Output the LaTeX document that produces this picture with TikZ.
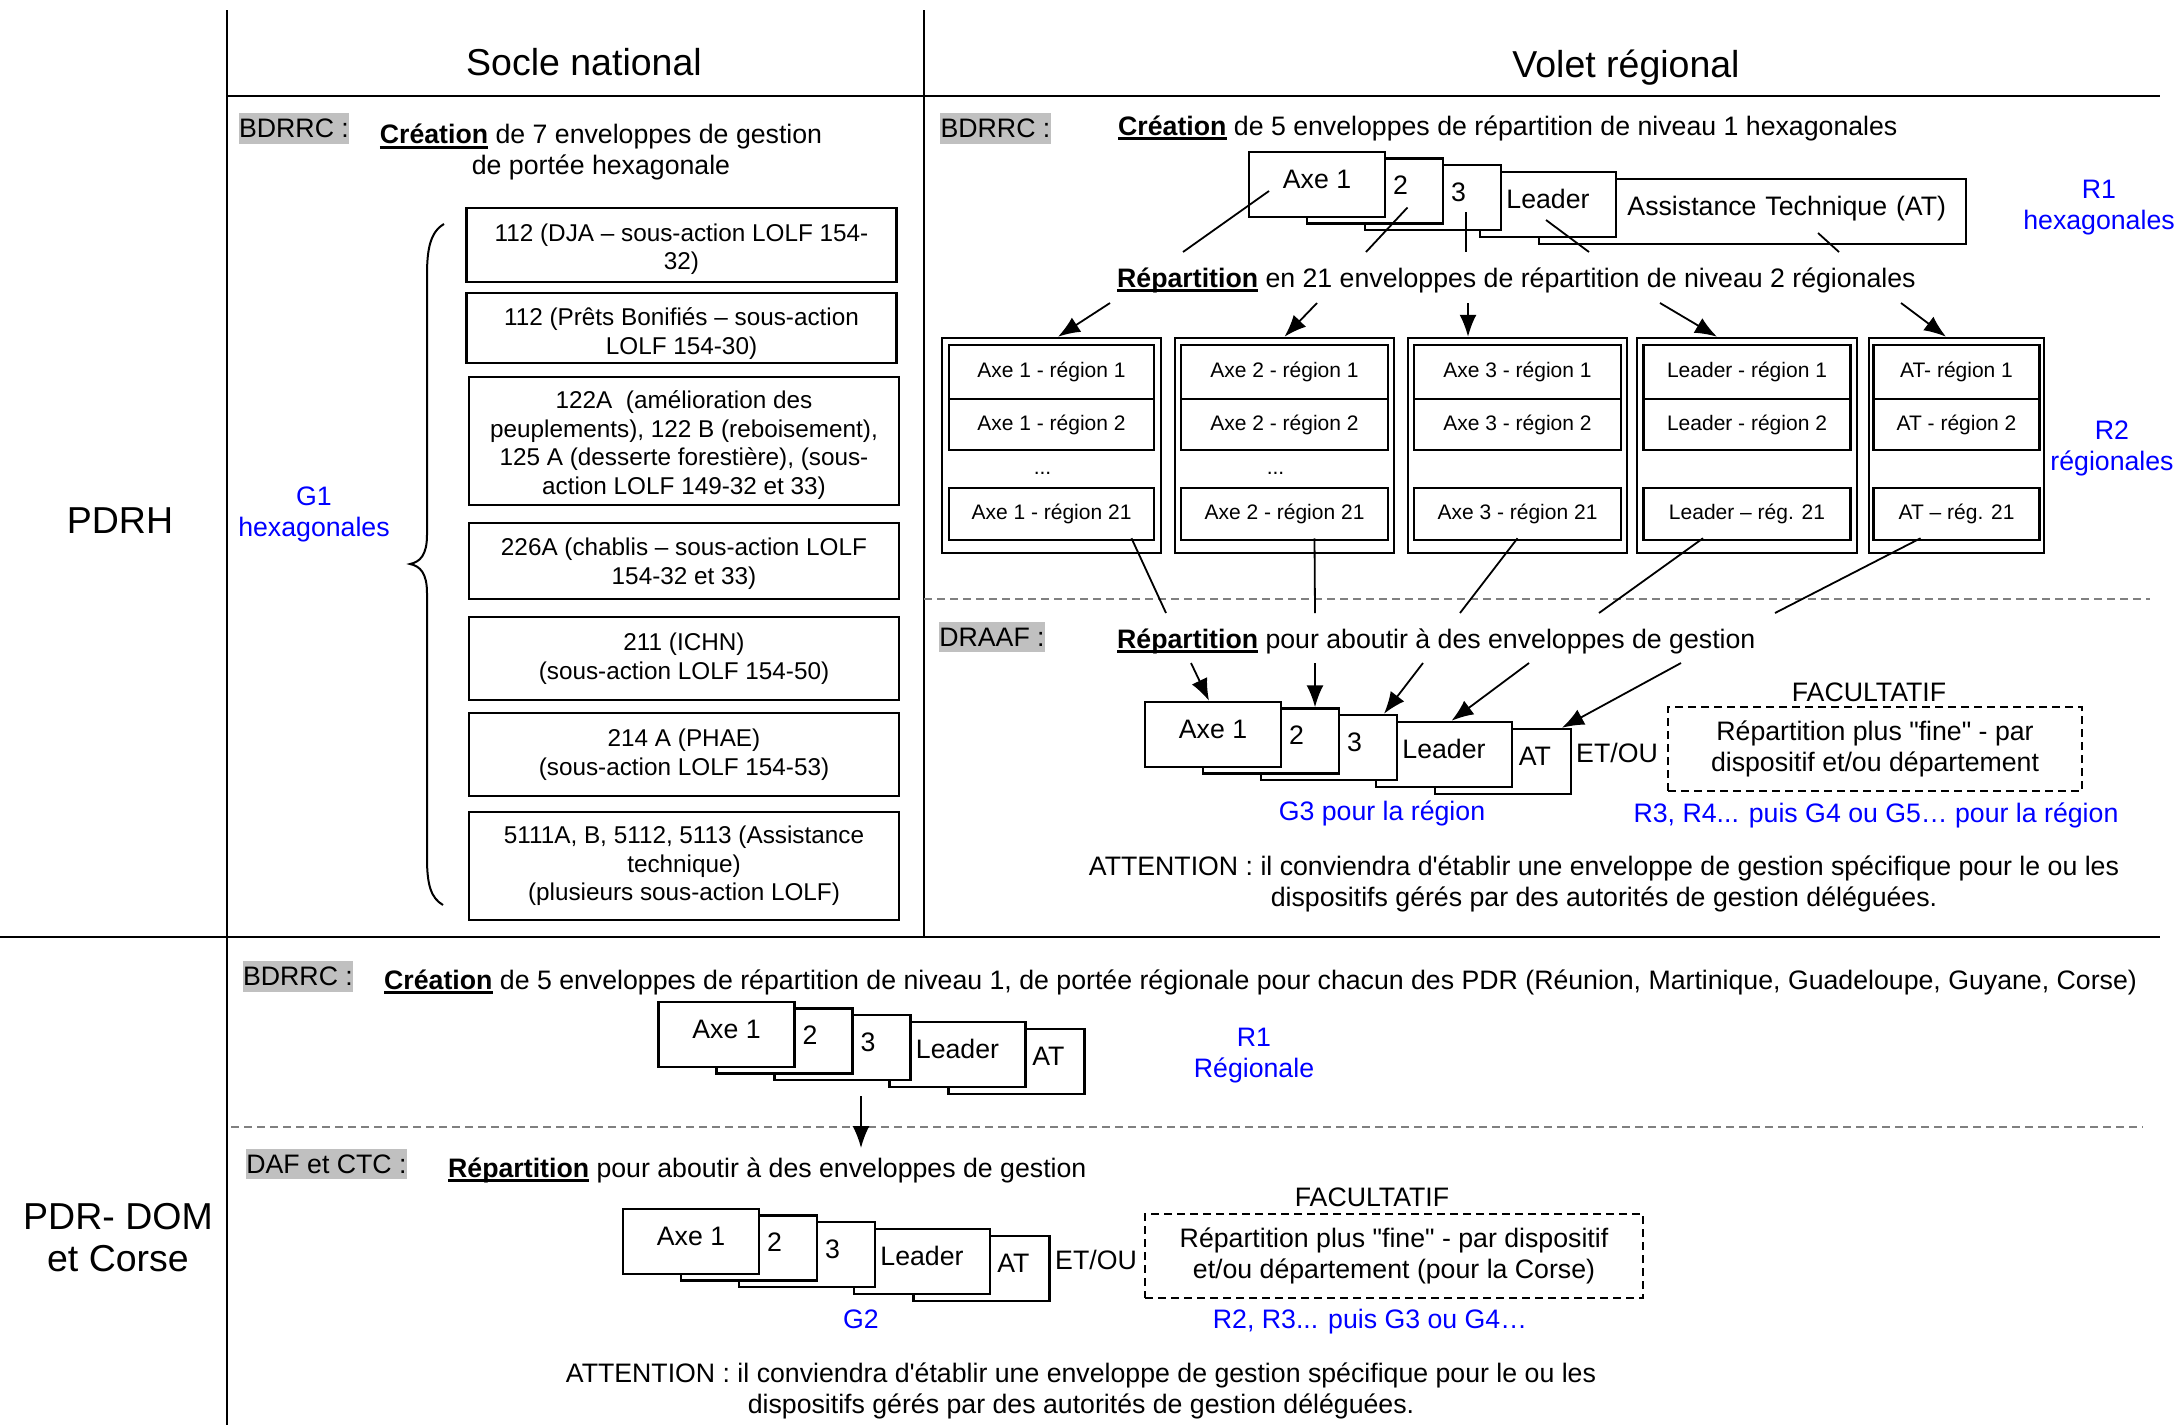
\documentclass[tikz,border=0pt]{standalone}
\usepackage{fontspec}
\setmainfont{Liberation Sans}[Ligatures=TeXOff]
\usetikzlibrary{positioning,arrows.meta}
\definecolor{tagfill}{RGB}{192,192,192}
\definecolor{sepline}{RGB}{128,128,128}
\newcommand\ulword[1]{\setbox0\hbox{\bfseries #1}\rlap{\rule[-5pt]{\wd0}{2.6pt}}\box0\relax}

\begin{document}
\begin{tikzpicture}[x=1pt, y=-1pt, > = {Latex[length=22pt,width=17pt]},
txt/.style={font=\fontsize{26.7}{31}\selectfont, inner sep=0pt},
head/.style={font=\fontsize{37.5}{42}\selectfont, inner sep=0pt},
blue txt/.style={txt, text=blue, align=center},
tag/.style={txt, fill=tagfill, inner xsep=0.5pt, inner ysep=6pt},
grid/.style={line width=2pt},
sep/.style={draw=sepline, line width=2pt, dash pattern=on 8pt off 5pt},
link/.style={line width=1.8pt},
lolf/.style={rectangle, draw, line width=2.5pt, minimum width=430pt, align=center, font=\fontsize{24.3}{28.5}\selectfont, inner sep=2pt},
env/.style={rectangle, draw, fill=white, line width=2.5pt, minimum width=136pt, minimum height=65pt, text height=19pt, text depth=12pt, txt},
num/.style={env, text width=66pt, inner xsep=35pt, align=right},
atbox/.style={env, inner xsep=20pt, align=right},
col/.style={rectangle, draw, line width=2.5pt, minimum height=215pt},
cell/.style={rectangle, draw, line width=2.5pt, font=\fontsize{21}{25}\selectfont},
opt/.style={rectangle, draw, line width=2pt, dash pattern=on 8pt off 5pt, minimum height=84pt, txt, align=center}]

\useasboundingbox (0,0) rectangle (2179,1425);

%table lines
\draw[grid] (227,10) -- (227,1425);
\draw[grid] (924,10) -- (924,937);
\draw[grid] (227,96) -- (2160,96);
\draw[grid] (0,937) -- (2160,937);
\draw[sep] (924,599) -- (2150,599);
\draw[sep] (231,1127) -- (2143,1127);

\node[head, anchor=base] (socle) at (584,75) {Socle national};
\node[head, anchor=base] (volet) at (1626,77) {Volet régional};
\node[head, anchor=base] (pdrh) at (120,533) {PDRH};
\node[head, align=center] (pdrdom) at (118,1237.5) {PDR- DOM\\et Corse};

%socle national
\node[tag] (bdrrc1) at (294,128.5) {BDRRC :};
\node[txt, align=center] (crea1) at (601,152) {\ulword{Création} de 7 enveloppes de gestion\\de portée hexagonale};

\node[lolf, minimum height=74pt, text height=55pt, text depth=5.2pt] (m112a) at (681.5,245) {112 (DJA – sous-action LOLF 154-\\32)};
\node[lolf, minimum height=70pt, text height=58pt, text depth=5.2pt] (m112b) at (681.5,328) {112 (Prêts Bonifiés – sous-action\\LOLF 154-30)};
\node[lolf, minimum height=128pt, text height=112pt, text depth=5.2pt] (m122) at (684,441) {122A\ \ (amélioration des\\peuplements), 122 B (reboisement),\\125 A (desserte forestière), (sous-\\action LOLF 149-32 et 33)};
\node[lolf, minimum height=76pt, text height=52pt, text depth=5.2pt] (m226) at (684,561) {226A (chablis – sous-action LOLF\\154-32 et 33)};
\node[lolf, minimum height=83pt] (m211) at (684,658.5) {211 (ICHN)\\(sous-action LOLF 154-50)};
\node[lolf, minimum height=83pt] (m214) at (684,754.5) {214 A (PHAE)\\(sous-action LOLF 154-53)};
\node[lolf, minimum height=108pt] (m511) at (684,866) {5111A, B, 5112, 5113 (Assistance\\technique)\\(plusieurs sous-action LOLF)};

%brace
\draw[line width=2pt] (444,224) .. controls (430,232) and (427,250) .. (427,275) -- (427,535) .. controls (427,555) and (420,562) .. (410,564) .. controls (420,566) and (427,573) .. (427,593) -- (427,858) .. controls (427,885) and (431,898) .. (443,905);
\node[blue txt] (g1) at (314,514) {G1\\hexagonales};

%stacks of envelopes
\foreach \s/\x/\y/\ax/\w/\at in {r/1317/184.5/1752.5/387pt/{Assistance Technique (AT)}, d/1213/734.5/1503/96pt/AT, o/726.5/1034.5/1016.5/96pt/AT, c/691/1241.5/981.5/96pt/AT}
{
\node[atbox, text width=\w] (\s5) at (\ax,\y+27) {\at};
\node[env] (\s4) at (\x+231,\y+20) {Leader};
\node[num] (\s3) at (\x+116,\y+13) {3};
\node[num] (\s2) at (\x+58,\y+6.5) {2};
\node[env] (\s1) at (\x,\y) {Axe 1};
}

%volet regional
\node[tag] (bdrrc2) at (995.5,128.5) {BDRRC :};
\node[txt, anchor=base west] (crea2) at (1118,135) {\ulword{Création} de 5 enveloppes de répartition de niveau 1 hexagonales};
\node[blue txt] (r1lab) at (2099,208) {R1\\hexagonales};
\node[txt, anchor=base west] (rep1) at (1117,287) {\ulword{Répartition} en 21 enveloppes de répartition de niveau 2 régionales};

\foreach \i/\dx/\dy/\ex in {1/-48/6.5/1183, 2/32.5/16.5/1366, 3/33/14.5/1466, 4/-2/15.5/1589, 5/65.5/21.5/1839}
{
\coordinate (q\i) at (\ex,252);
\draw[link] ([shift={(\dx,\dy)}]r\i.center) -- (q\i);
}

%columns of regions
\foreach \i/\cx/\ow/\iw/\ra/\rb/\rc in {1/1051.5/219pt/205pt/{Axe 1 - région 1}/{Axe 1 - région 2}/{Axe 1 - région 21}, 2/1284.5/219pt/207pt/{Axe 2 - région 1}/{Axe 2 - région 2}/{Axe 2 - région 21}, 3/1517.5/219pt/207pt/{Axe 3 - région 1}/{Axe 3 - région 2}/{Axe 3 - région 21}, 4/1747/220pt/207pt/{Leader - région 1}/{Leader - région 2}/{Leader – rég. 21}, 5/1956.5/175pt/166pt/{AT- région 1}/{AT - région 2}/{AT – rég. 21}}
{
\node[col, minimum width=\ow] (col\i) at (\cx,445.5) {};
\node[cell, minimum width=\iw, minimum height=54pt] (c\i-a) at (\cx,372) {\ra};
\node[cell, minimum width=\iw, minimum height=51pt] (c\i-b) at (\cx,424.5) {\rb};
\node[cell, minimum width=\iw, minimum height=52pt] (c\i-c) at (\cx,514) {\rc};
\ifnum\i<3 \node[cell, draw=none] (c\i-d) at (\cx-9,473) {...}; \fi
}
\node[blue txt] (r2lab) at (2112,448) {R2\\régionales};

\foreach \i/\sx/\dx in {1/1110/6.5, 2/1317/0, 3/1468/-49.5, 4/1660/-30, 5/1901/-10.5}
{
\coordinate (p\i) at (\sx,303);
\draw[link, ->] (p\i) -- ([shift={(\dx,0)}]col\i.north);
}
\foreach \i/\dx/\ex in {1/80/1166, 2/30/1315, 3/0/1460, 4/-44/1599, 5/-36/1775}
{
\coordinate (v\i) at (\ex,613);
\draw[link] ([shift={(\dx,-3)}]c\i-c.south) -- (v\i);
}

%draaf
\node[tag] (draaf) at (992,637) {DRAAF :};
\node[txt, anchor=base west] (rep2) at (1117,648) {\ulword{Répartition} pour aboutir à des enveloppes de gestion};
\foreach \i/\sx/\dx in {1/1191/-4, 2/1315/44, 3/1423/55, 4/1529/7.5, 5/1681/59}
{
\coordinate (w\i) at (\sx,663);
\draw[link, ->] (w\i) -- ([shift={(\dx,0)}]d\i.north);
}
\node[txt] (etou1) at (1617,753) {ET/OU};
\node[txt] (fac1) at (1869,692) {FACULTATIF};
\node[opt, minimum width=414pt] (fine1) at (1875,749) {Répartition plus "fine" - par\\dispositif et/ou département};
\node[blue txt] (g3) at (1382,813) {G3 pour la région};
\node[blue txt] (r3lab) at (1876,815) {R3, R4... puis G4 ou G5… pour la région};
\node[txt, align=center] (att1) at (1604,884) {ATTENTION : il conviendra d'établir une enveloppe de gestion spécifique pour le ou les\\dispositifs gérés par des autorités de gestion déléguées.};

%pdr dom et corse
\node[tag] (bdrrc3) at (298,976.5) {BDRRC :};
\node[txt, anchor=base west] (crea3) at (384,989) {\ulword{Création} de 5 enveloppes de répartition de niveau 1, de portée régionale pour chacun des PDR (Réunion, Martinique, Guadeloupe, Guyane, Corse)};
\node[blue txt] (r1reg) at (1254,1056) {R1\\Régionale};
\coordinate (dn) at (861,1148);
\draw[link, ->] ([shift={(18.5,15)}]o3.south) -- (dn);

\node[tag] (dafctc) at (326.5,1164) {DAF et CTC :};
\node[txt, anchor=base west] (rep3) at (448,1177) {\ulword{Répartition} pour aboutir à des enveloppes de gestion};
\node[txt] (etou2) at (1096,1260) {ET/OU};
\node[txt] (fac2) at (1372,1197) {FACULTATIF};
\node[opt, minimum width=498pt] (fine2) at (1394,1256) {Répartition plus "fine" - par dispositif\\et/ou département (pour la Corse)};
\node[blue txt] (g2) at (861,1319) {G2};
\node[blue txt] (r2r3) at (1370,1322) {R2, R3... puis G3 ou G4…};
\node[txt, align=center] (att2) at (1081,1391) {ATTENTION : il conviendra d'établir une enveloppe de gestion spécifique pour le ou les\\dispositifs gérés par des autorités de gestion déléguées.};

\end{tikzpicture}
\end{document}
